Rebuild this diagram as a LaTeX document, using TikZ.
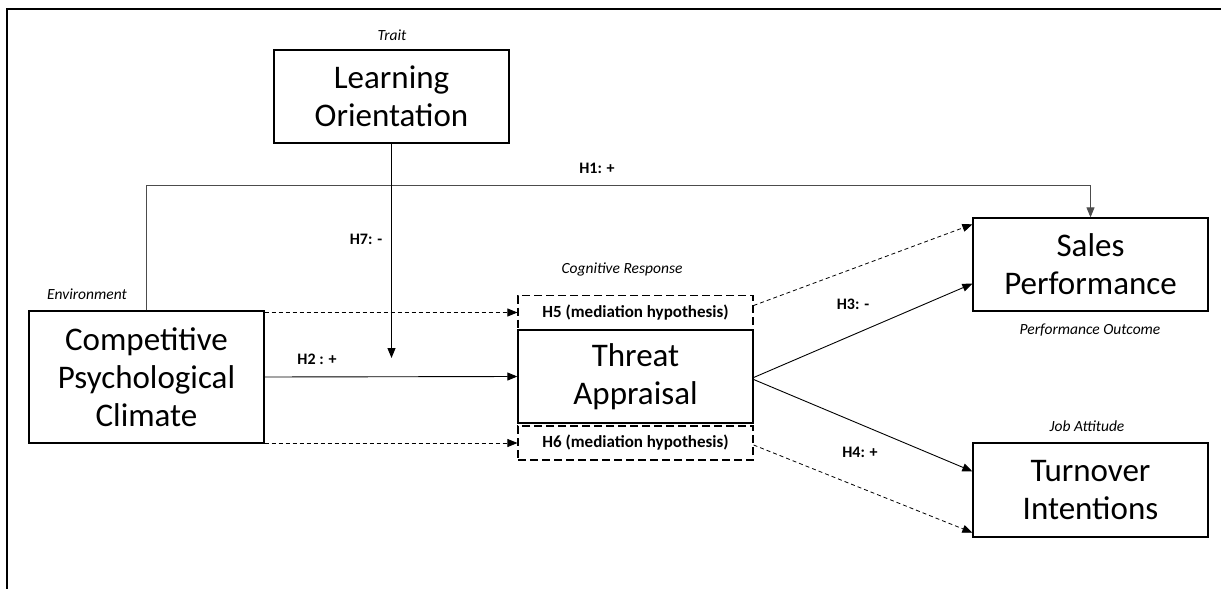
\documentclass[tikz,border=0pt]{standalone}
\usepackage{fontspec}
\setmainfont{Carlito}
\usetikzlibrary{arrows.meta,calc}
\begin{document}
\begin{tikzpicture}[x=1pt,y=-1pt,
  box/.style={draw,line width=1.3pt,minimum width=235pt,inner sep=0pt,align=center,font=\fontsize{33}{38}\selectfont},
  hbox/.style={draw,line width=1.2pt,dash pattern=on 8pt off 4pt,minimum width=235pt,minimum height=34pt,inner sep=0pt,font=\fontsize{17}{19}\selectfont\bfseries},
  conn/.style={line width=0.9pt,-{Triangle[length=10pt,width=8pt]}},
  dconn/.style={conn,line width=0.8pt,dash pattern=on 4pt off 3pt},
  lab/.style={font=\fontsize{16}{18}\selectfont\bfseries,inner sep=0pt},
  cat/.style={font=\fontsize{15.5}{17}\selectfont\itshape,inner sep=0pt}]
\useasboundingbox (0,0) rectangle (1221,589);
% frame
\draw[line width=1.5pt] (7,589) -- (7,9) -- (1221,9);
% boxes
\node[box,minimum height=93pt] (lo) at (391.5,96.5) {Learning\\Orientation};
\node[box,minimum height=132pt] (cpc) at (146.5,377) {Competitive\\Psychological\\Climate};
\node[hbox] (h5) at (635.5,312.5) {H5 (mediation hypothesis)};
\node[box,minimum height=93pt] (ta) at (635.5,376.5) {Threat\\Appraisal};
\node[hbox] (h6) at (635.5,443) {H6 (mediation hypothesis)};
\node[box,minimum height=93pt] (sp) at (1090.5,264.5) {Sales\\Performance};
\node[box,minimum height=94pt] (ti) at (1090.5,490) {Turnover\\Intentions};
% category labels
\node[cat] (ctrait) at (392,35) {Trait};
\node[cat] (cenv) at (87,294) {Environment};
\node[cat] (ccog) at (622,269) {Cognitive Response};
\node[cat] (cperf) at (1090,330) {Performance Outcome};
\node[cat] (cjob) at (1087,426) {Job Attitude};
% coordinates
\coordinate (h1y) at (0,185);
\coordinate (h7end) at (391.5,358);
% connectors
\draw[conn,line width=0.8pt,draw=black!70] (cpc.north) -- (cpc.north |- h1y) -- (sp.north |- h1y) -- (sp.north);
\draw[conn,line width=1.1pt] (lo.south) -- (h7end);
\draw[conn] (cpc.east) -- (ta.west);
\draw[dconn] (h5.west -| cpc.east) -- (h5.west);
\draw[dconn] (h6.west -| cpc.east) -- (h6.west);
\draw[dconn] ($(h5.east)+(0,-7)$) -- ($(sp.north west)+(0,7)$);
\draw[conn] ($(ta.east)+(0,1)$) -- ($(sp.south west)+(0,-28)$);
\draw[conn] ($(ta.east)+(0,3)$) -- ($(ti.north west)+(0,29)$);
\draw[dconn] ($(h6.east)+(0,2)$) -- ($(ti.south west)+(0,-5)$);
% hypothesis labels
\node[lab] (lh1) at (597,168) {H1: +};
\node[lab] (lh7) at (366,239) {H7: -};
\node[lab] (lh2) at (317,359) {H2 : +};
\node[lab] (lh3) at (853,304) {H3: -};
\node[lab] (lh4) at (860,452) {H4: +};
\end{tikzpicture}
\end{document}
